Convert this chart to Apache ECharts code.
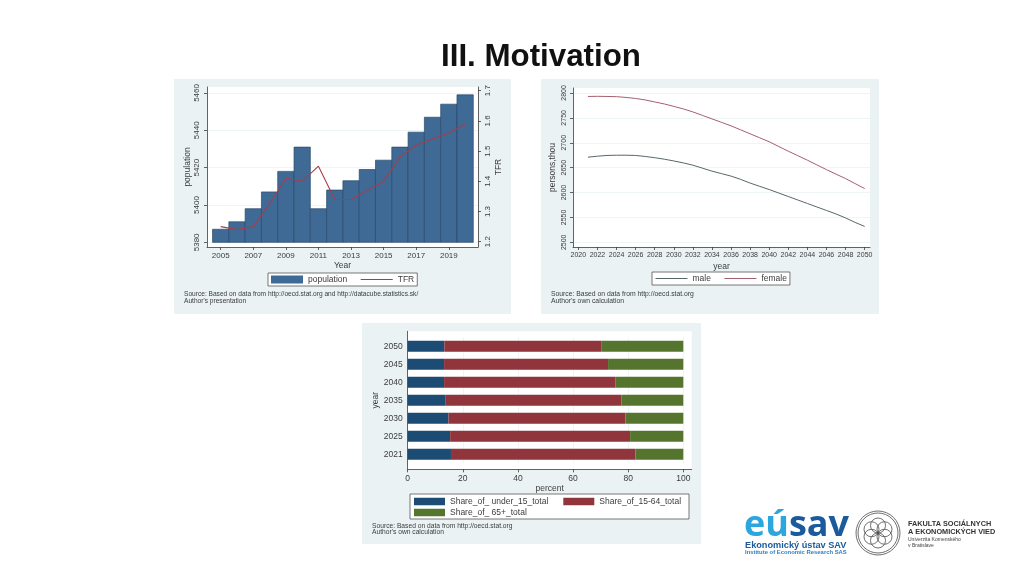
<!DOCTYPE html>
<html lang="en">

<head>
    <meta charset="UTF-8">
    <title>III. Motivation</title>
    <script src="https://cdnjs.cloudflare.com/ajax/libs/echarts/6.0.0/echarts.min.js"></script>
    <style>
        html, body { margin: 0; padding: 0; background: #ffffff; }
        #main { width: 1024px; height: 576px; }
    </style>
</head>

<body>
    <div id="main"></div>
    <script>
        // chart 1: population bars + TFR line
        const popYears = [2005, 2006, 2007, 2008, 2009, 2010, 2011, 2012, 2013, 2014, 2015, 2016, 2017, 2018, 2019, 2020];
        const population = [5387, 5391, 5398, 5407, 5418, 5431, 5398, 5408, 5413, 5419, 5424, 5431, 5439, 5447, 5454, 5459];
        const tfr = [1.25, 1.24, 1.25, 1.325, 1.41, 1.40, 1.45, 1.34, 1.34, 1.37, 1.40, 1.48, 1.52, 1.54, 1.56, 1.59];
        const popBase = 5380;
        const popTicks = [5380, 5400, 5420, 5440, 5460];
        const tfrTicks = [1.2, 1.3, 1.4, 1.5, 1.6, 1.7];
        const popYearTicks = [2005, 2007, 2009, 2011, 2013, 2015, 2017, 2019];

        // chart 2: projection by sex
        const projYears = [2021, 2022, 2023, 2024, 2025, 2026, 2027, 2028, 2029, 2030, 2031, 2032, 2033, 2034, 2035,
            2036, 2037, 2038, 2039, 2040, 2041, 2042, 2043, 2044, 2045, 2046, 2047, 2048, 2049, 2050];
        const male = [2671, 2673, 2674.5, 2675, 2675, 2674.5, 2672.5, 2670, 2667, 2663.5, 2659.5, 2655, 2649, 2643, 2638,
            2633, 2626.5, 2619, 2612.5, 2606, 2599, 2592, 2585, 2578, 2571, 2564, 2557, 2549, 2540, 2532];
        const female = [2793, 2793.3, 2793, 2792.6, 2791, 2789, 2786, 2782, 2778, 2773, 2768, 2762, 2755, 2748, 2741,
            2734, 2726, 2718, 2710, 2702, 2692.5, 2683, 2674, 2665, 2655.5, 2646, 2637, 2628, 2618, 2608];
        const projTicksY = [2500, 2550, 2600, 2650, 2700, 2750, 2800];
        const projTicksX = [2020, 2022, 2024, 2026, 2028, 2030, 2032, 2034, 2036, 2038, 2040, 2042, 2044, 2046, 2048, 2050];

        // chart 3: age structure shares
        const shareYears = ['2021', '2025', '2030', '2035', '2040', '2045', '2050'];
        const under15 = [15.7, 15.4, 14.8, 13.8, 13.2, 13.2, 13.3];
        const mid1564 = [66.9, 65.3, 64.2, 63.7, 62.1, 59.5, 57.1];
        const over65 = [17.4, 19.3, 21.0, 22.5, 24.7, 27.3, 29.6];
        const shareTicks = [0, 20, 40, 60, 80, 100];

        const chart = echarts.init(document.getElementById('main'), null, { renderer: 'canvas' });

        const FONT = '"Liberation Sans", Arial, sans-serif';
        const INK = '#3c3c3c';
        const PANEL = '#eaf2f3';
        const faintLine = { show: true, lineStyle: { color: PANEL, width: 0.8 } };

        function plainLabel(v) { return String(v); }

        function axisBits(size, ticks, rotate, margin) {
            return {
                axisLine: { show: true, onZero: false, lineStyle: { color: INK, width: 0.8 } },
                axisTick: { show: true, length: 3, customValues: ticks, lineStyle: { color: INK, width: 0.8 } },
                axisLabel: {
                    show: true, customValues: ticks, formatter: plainLabel, rotate: rotate, margin: margin,
                    fontFamily: FONT, fontSize: size, color: INK
                },
                splitLine: { show: false },
                nameTextStyle: { fontFamily: FONT, fontSize: 8.5, color: INK }
            };
        }

        function panel(x, y, w, h) {
            return { type: 'rect', silent: true, z: -10, shape: { x: x, y: y, width: w, height: h }, style: { fill: PANEL } };
        }

        function note(x, y, text, size, color, weight) {
            return {
                type: 'text', silent: true, x: x, y: y,
                style: {
                    text: text, fontFamily: FONT, fontSize: size, fill: color || INK,
                    fontWeight: weight || 'normal', verticalAlign: 'middle'
                }
            };
        }

        function ring(r, x, y) {
            return {
                type: 'circle', silent: true, shape: { cx: x, cy: y, r: r },
                style: { fill: 'none', stroke: '#4a4a4a', lineWidth: 0.8 }
            };
        }

        // flower emblem of the faculty logo
        const cx = 878, cy = 533;
        const emblem = [ring(22, cx, cy), ring(20, cx, cy)];
        [[0, -7.5], [6.5, -3.75], [6.5, 3.75], [0, 7.5], [-6.5, 3.75], [-6.5, -3.75]].forEach(p => {
            emblem.push(ring(7.5, cx + p[0], cy + p[1]));
        });

        // bars start at 5380, a little above the bottom of the plot region
        function popBar(params, api) {
            const x = api.value(0);
            const top = api.coord([x, api.value(1)]);
            const bottom = api.coord([x, popBase]);
            const w = api.size([1, 0])[0];
            return {
                type: 'rect',
                shape: { x: top[0] - w / 2, y: top[1], width: w, height: bottom[1] - top[1] },
                style: { fill: '#3f6a95', stroke: '#2a4a6c', lineWidth: 0.7 }
            };
        }

        const legendCommon = {
            show: true, orient: 'horizontal', borderWidth: 0,
            lineStyle: { width: 1 },
            textStyle: { fontFamily: FONT, color: INK, fontSize: 8.5 }
        };
        const boxedLegend = { backgroundColor: '#ffffff', borderColor: '#555555', borderWidth: 0.8 };
        const hideMarker = { opacity: 0 };

        const option = {
            animation: false,
            backgroundColor: '#ffffff',
            title: {
                text: 'III. Motivation', left: 441, top: 42, padding: 0,
                textStyle: { fontFamily: FONT, fontWeight: 'bold', fontSize: 31.3, color: '#111111' }
            },
            graphic: [
                panel(174, 79, 337, 235), panel(541, 79, 338, 235), panel(362, 323, 339, 221),
                {
                    type: 'rect', silent: true, z: 1, shape: { x: 410, y: 494, width: 279, height: 25 },
                    style: { fill: '#ffffff', stroke: '#555555', lineWidth: 0.8 }
                },
                note(184, 294, 'Source: Based on data from http://oecd.stat.org and http://datacube.statistics.sk/', 6.6),
                note(184, 301.5, "Author's presentation", 6.6),
                note(551, 294, 'Source: Based on data from http://oecd.stat.org', 6.8),
                note(551, 301.5, "Author's own calculation", 6.8),
                note(372, 526, 'Source: Based on data from http://oecd.stat.org', 6.7),
                note(372, 532.5, "Author's own calculation", 6.7),
                {
                    type: 'text', silent: true, x: 744, y: 544,
                    style: {
                        text: '{a|eú}{b|sav}',
                        verticalAlign: 'bottom',
                        rich: {
                            a: { fontFamily: '"Open Sans", sans-serif', fontWeight: 'bold', fontSize: 36, fill: '#2ba6de', color: '#2ba6de' },
                            b: { fontFamily: '"Open Sans", sans-serif', fontWeight: 'bold', fontSize: 36, fill: '#1b5a9c', color: '#1b5a9c' }
                        }
                    }
                },
                note(745, 545, 'Ekonomický ústav SAV', 9.2, '#1b5a9c', 'bold'),
                note(745, 552, 'Institute of Economic Research SAS', 5.9, '#2f7fc0', 'bold'),
                ...emblem,
                note(908, 524, 'FAKULTA SOCIÁLNYCH', 7.3, '#333333', 'bold'),
                note(908, 532, 'A EKONOMICKÝCH VIED', 7.3, '#333333', 'bold'),
                note(908, 540, 'Univerzita Komenského', 5, '#444444'),
                note(908, 546, 'v Bratislave', 5, '#444444')
            ],
            grid: [
                { left: 207, top: 87, width: 271, height: 160, show: true, backgroundColor: '#ffffff', borderWidth: 0 },
                { left: 573, top: 88, width: 297, height: 159, show: true, backgroundColor: '#ffffff', borderWidth: 0 },
                // backdrop for the third chart: plot region is taller than the seven bands
                { left: 407.7, top: 331.3, width: 284, height: 138, show: true, backgroundColor: '#ffffff', borderWidth: 0 },
                { left: 407.7, top: 337.3, width: 284, height: 126, borderWidth: 0 }
            ],
            xAxis: [
                {
                    type: 'value', gridIndex: 0, min: 2004.16, max: 2020.79,
                    ...axisBits(8, popYearTicks, 0, 5),
                    name: 'Year', nameLocation: 'middle', nameGap: 13
                },
                {
                    type: 'value', gridIndex: 1, min: 2019.44, max: 2050.56,
                    ...axisBits(7, projTicksX, 0, 5),
                    name: 'year', nameLocation: 'middle', nameGap: 15
                },
                { type: 'value', gridIndex: 2, min: 0, max: 1, show: false },
                {
                    type: 'value', gridIndex: 3, min: 0, max: 103.05, offset: 6,
                    ...axisBits(8.5, shareTicks, 0, 5),
                    splitLine: faintLine,
                    name: 'percent', nameLocation: 'middle', nameGap: 11
                }
            ],
            yAxis: [
                {
                    type: 'value', gridIndex: 0, min: 5377.5, max: 5463.2,
                    ...axisBits(8, popTicks, 90, 6),
                    splitLine: faintLine,
                    name: 'population', nameLocation: 'middle', nameGap: 15, nameRotate: 90
                },
                {
                    type: 'value', gridIndex: 0, position: 'right', min: 1.1825, max: 1.7122,
                    ...axisBits(8, tfrTicks, 90, 6),
                    name: 'TFR', nameLocation: 'middle', nameGap: 16, nameRotate: 90
                },
                {
                    type: 'value', gridIndex: 1, min: 2490.6, max: 2810,
                    ...axisBits(7, projTicksY, 90, 5),
                    splitLine: faintLine,
                    name: 'persons,thou', nameLocation: 'middle', nameGap: 16, nameRotate: 90
                },
                {
                    type: 'value', gridIndex: 2, min: 0, max: 1,
                    axisLine: { show: true, lineStyle: { color: INK, width: 0.8 } },
                    axisTick: { show: false }, axisLabel: { show: false }, splitLine: { show: false }
                },
                {
                    type: 'category', gridIndex: 3, data: shareYears,
                    axisLine: { show: false },
                    axisTick: { show: false },
                    axisLabel: { fontFamily: FONT, fontSize: 8.5, color: INK, margin: 5 },
                    name: 'year', nameLocation: 'middle', nameGap: 24, nameRotate: 90,
                    nameTextStyle: { fontFamily: FONT, fontSize: 8.5, color: INK }
                }
            ],
            legend: [
                {
                    ...legendCommon, ...boxedLegend, left: 268, top: 273, padding: [2, 3],
                    data: [{ name: 'population', icon: 'rect' }, { name: 'TFR', itemStyle: hideMarker }],
                    itemWidth: 32, itemHeight: 8, itemGap: 13
                },
                {
                    ...legendCommon, ...boxedLegend, left: 652, top: 272, padding: [2, 3],
                    data: [{ name: 'male', itemStyle: hideMarker }, { name: 'female', itemStyle: hideMarker }],
                    itemWidth: 32, itemHeight: 8, itemGap: 13
                },
                // two rows share one white box drawn in graphic, itemGap alone can't give the spacing
                {
                    ...legendCommon, left: 411, top: 496, padding: [1, 3],
                    data: [{ name: 'Share_of_ under_15_total', icon: 'rect' }, { name: 'Share_of_15-64_total', icon: 'rect' }],
                    itemWidth: 31, itemHeight: 7.5, itemGap: 15
                },
                {
                    ...legendCommon, left: 411, top: 507, padding: [1, 3],
                    data: [{ name: 'Share_of_ 65+_total', icon: 'rect' }],
                    itemWidth: 31, itemHeight: 7.5, itemGap: 15
                }
            ],
            series: [
                {
                    name: 'population', type: 'custom', xAxisIndex: 0, yAxisIndex: 0, renderItem: popBar,
                    encode: { x: 0, y: 1 }, itemStyle: { color: '#3f6a95' },
                    data: popYears.map((y, i) => [y, population[i]])
                },
                {
                    name: 'TFR', type: 'line', xAxisIndex: 0, yAxisIndex: 1, symbol: 'none', z: 5,
                    lineStyle: { color: '#a83c4c', width: 1.1 }, itemStyle: { color: '#a83c4c' },
                    data: popYears.map((y, i) => [y, tfr[i]])
                },
                {
                    name: 'male', type: 'line', xAxisIndex: 1, yAxisIndex: 2, symbol: 'none',
                    lineStyle: { color: '#56686c', width: 1 }, itemStyle: { color: '#56686c' },
                    data: projYears.map((y, i) => [y, male[i]])
                },
                {
                    name: 'female', type: 'line', xAxisIndex: 1, yAxisIndex: 2, symbol: 'none',
                    lineStyle: { color: '#a4606f', width: 1 }, itemStyle: { color: '#a4606f' },
                    data: projYears.map((y, i) => [y, female[i]])
                },
                {
                    name: 'Share_of_ under_15_total', type: 'bar', stack: 'share', xAxisIndex: 3, yAxisIndex: 4, barWidth: 11,
                    itemStyle: { color: '#1c4b74' }, data: under15
                },
                {
                    name: 'Share_of_15-64_total', type: 'bar', stack: 'share', xAxisIndex: 3, yAxisIndex: 4, barWidth: 11,
                    itemStyle: { color: '#90353b' }, data: mid1564
                },
                {
                    name: 'Share_of_ 65+_total', type: 'bar', stack: 'share', xAxisIndex: 3, yAxisIndex: 4, barWidth: 11,
                    itemStyle: { color: '#55752f' }, data: over65
                }
            ]
        };

        chart.setOption(option);
    </script>
</body>

</html>
